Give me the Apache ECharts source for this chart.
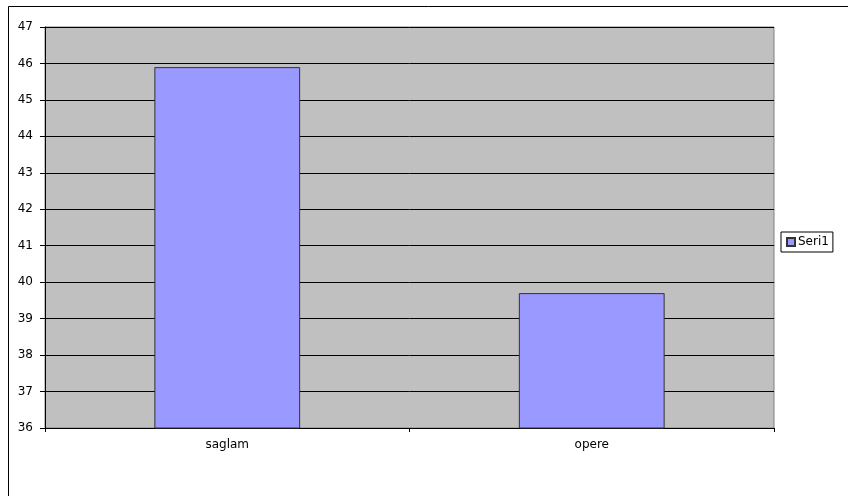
<!DOCTYPE html>
<html>
<head>
<meta charset="utf-8">
<style>
  html, body { margin: 0; padding: 0; background: #fff; }
  #chart { width: 848px; height: 496px; }
</style>
<script src="https://cdn.jsdelivr.net/npm/echarts@6/dist/echarts.min.js"></script>
</head>
<body>
<div id="chart"></div>
<script>
// Chart data
const categories = ['saglam', 'opere'];
const seriesName = 'Seri1';
const seriesValues = [45.9, 39.7];
const yMin = 36;
const yMax = 47;
const yStep = 1;

const chart = echarts.init(document.getElementById('chart'));
const font = 'DejaVu Sans, Arial, sans-serif';

chart.setOption({
  animation: false,
  backgroundColor: '#ffffff',
  graphic: [{
    type: 'rect',
    shape: { x: 8.5, y: 6.5, width: 900, height: 600 },
    style: { fill: 'none', stroke: '#000', lineWidth: 1 },
    silent: true,
    z: -10
  }],
  grid: {
    left: 45, top: 27, right: 74, bottom: 68,
    show: true,
    backgroundColor: '#c0c0c0',
    borderColor: '#808080',
    borderWidth: 1
  },
  legend: {
    left: 781, top: 232,
    orient: 'vertical',
    itemWidth: 8, itemHeight: 8,
    itemGap: 4,
    padding: [4, 4, 4, 5],
    borderColor: '#000', borderWidth: 1,
    icon: 'rect',
    textStyle: { fontFamily: font, fontSize: 12, color: '#000', padding: [0, 0, 0, -2] },
    data: [seriesName]
  },
  xAxis: {
    type: 'category',
    data: categories,
    axisLine: { lineStyle: { color: '#000', width: 1 } },
    axisTick: { show: true, length: 4, lineStyle: { color: '#000' } },
    axisLabel: { fontFamily: font, fontSize: 12, color: '#000', margin: 11 },
    splitLine: { show: false }
  },
  yAxis: {
    type: 'value',
    min: yMin, max: yMax, interval: yStep,
    axisLine: { show: true, lineStyle: { color: '#000', width: 1 } },
    axisTick: { show: true, length: 5, lineStyle: { color: '#000' } },
    axisLabel: { fontFamily: font, fontSize: 12, color: '#000', margin: 12 },
    splitLine: { show: true, lineStyle: { color: '#000', width: 1 } }
  },
  series: [{
    name: seriesName,
    type: 'bar',
    data: seriesValues,
    barWidth: '40%',
    itemStyle: { color: '#9999ff', borderColor: '#333333', borderWidth: 1 }
  }]
});
</script>
</body>
</html>
